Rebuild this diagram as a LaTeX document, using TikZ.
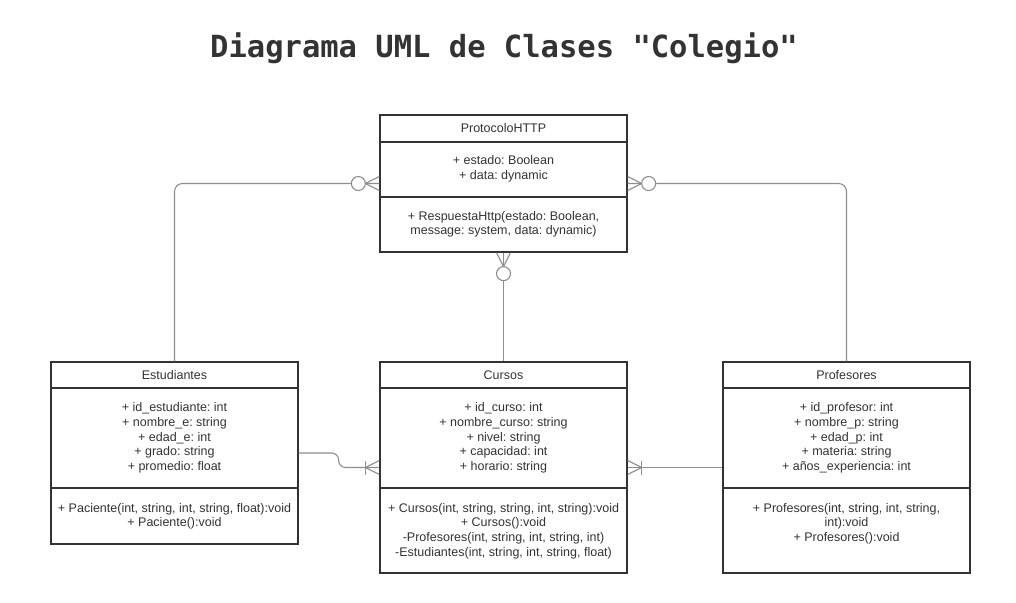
\documentclass[tikz,border=0pt]{standalone}
\usepackage{fontspec}
\setmainfont{Liberation Sans}
\newfontfamily\titlefont{DejaVu Sans Mono}
\frenchspacing
\definecolor{ink}{HTML}{333333}
\definecolor{wire}{HTML}{8E8E8E}
\tikzset{
    zeromany/.pic={\draw[conn] (0,-7) -- (14,0) -- (0,7);
        \draw[conn,fill=white] (21,0) circle (7pt);},
    onemany/.pic={\draw[conn] (0,-7) -- (14,0) -- (0,7);
        \draw[conn] (14,-7) -- (14,7);}
}
\begin{document}
\begin{tikzpicture}[x=1pt,y=-1pt,
    box/.style={draw=ink,line width=1.3pt,minimum width=247pt,inner sep=0pt},
    sep/.style={draw=ink,line width=1.3pt},
    txt/.style={text=ink,align=center,inner sep=0pt,anchor=north,font=\fontsize{12.5}{14.7}\selectfont},
    conn/.style={draw=wire,line width=1.1pt}]
    \useasboundingbox (0,0) rectangle (1016,602);
    \node[text=ink,anchor=base,font=\fontsize{30.5}{36}\titlefont\bfseries\selectfont] (title) at (504,58) {Diagrama UML de Clases "Colegio"};

    \node[box,minimum height=137pt] (proto) at (503.5,183.5) {};
    \node[box,minimum height=182pt] (est) at (174.5,453) {};
    \node[box,minimum height=211pt] (cur) at (503.5,467.5) {};
    \node[box,minimum height=211pt] (prof) at (846.5,467.5) {};
    \draw[sep] (proto.west |- 0,142) -- (proto.east |- 0,142);
    \draw[sep] (proto.west |- 0,197) -- (proto.east |- 0,197);
    \foreach \c in {est,cur,prof}
        {\draw[sep] (\c.west |- 0,388) -- (\c.east |- 0,388);
         \draw[sep] (\c.west |- 0,488) -- (\c.east |- 0,488);
        }

    \node[txt] (proto-name) at (503.5,123.5) {ProtocoloHTTP};
    \node[txt] (proto-attr) at (503.5,155.5) {+ estado: Boolean\\ + data: dynamic};
    \node[txt] (proto-meth) at (503.5,211) {+ RespuestaHttp(estado: Boolean,\\ message: system, data: dynamic)};
    \node[txt] (est-name) at (174.5,370.5) {Estudiantes};
    \node[txt] (est-attr) at (174.5,402.5) {+ id\_estudiante: int\\ + nombre\_e: string\\ + edad\_e: int\\ + grado: string\\ + promedio: float};
    \node[txt] (est-meth) at (174.5,503) {+ Paciente(int, string, int, string, float):void\\ + Paciente():void};
    \node[txt] (cur-name) at (503.5,370.5) {Cursos};
    \node[txt] (cur-attr) at (503.5,402.5) {+ id\_curso: int\\ + nombre\_curso: string\\ + nivel: string\\ + capacidad: int\\ + horario: string};
    \node[txt] (cur-meth) at (503.5,503) {+ Cursos(int, string, string, int, string):void\\ + Cursos():void\\ -Profesores(int, string, int, string, int)\\ -Estudiantes(int, string, int, string, float)};
    \node[txt] (prof-name) at (846.5,370.5) {Profesores};
    \node[txt] (prof-attr) at (846.5,402.5) {+ id\_profesor: int\\ + nombre\_p: string\\ + edad\_p: int\\ + materia: string\\ + años\_experiencia: int};
    \node[txt] (prof-meth) at (846.5,503) {+ Profesores(int, string, int, string,\\ int):void\\ + Profesores():void};

    \draw[conn,rounded corners=8pt] (est.north) |- (proto.west);
    \draw[conn,rounded corners=8pt] (prof.north) |- (proto.east);
    \draw[conn] (cur.north) -- (proto.south);
    \draw[conn,rounded corners=7pt] (est.east) -- ++(40,0) |- (cur.west);
    \draw[conn] (prof.west) -- (cur.east);
    \pic[rotate=180] at (proto.west) {zeromany};
    \pic at (proto.east) {zeromany};
    \pic[rotate=-90] at (proto.south) {zeromany};
    \pic[rotate=180] at (cur.west) {onemany};
    \pic at (cur.east) {onemany};
\end{tikzpicture}
\end{document}
